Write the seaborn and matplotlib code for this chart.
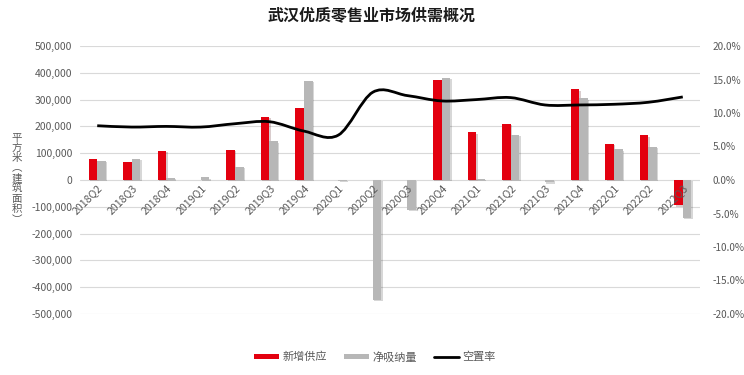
import numpy as np
import pandas as pd
import matplotlib
matplotlib.use("Agg")
import matplotlib.pyplot as plt
import seaborn as sns
from matplotlib.path import Path
from matplotlib.patches import PathPatch, Patch
from matplotlib.lines import Line2D
from matplotlib.ticker import FuncFormatter, MultipleLocator
import matplotlib.patheffects as pe

quarters = ["2018Q2", "2018Q3", "2018Q4", "2019Q1", "2019Q2", "2019Q3", "2019Q4",
            "2020Q1", "2020Q2", "2020Q3", "2020Q4", "2021Q1", "2021Q2", "2021Q3",
            "2021Q4", "2022Q1", "2022Q2", "2022Q3"]
supply = [77000, 68000, 108000, 0, 112000, 236000, 270000,
          0, 0, 0, 374000, 178000, 210000, 0,
          338000, 136000, 167000, -95000]
absorption = [71000, 78000, 8000, 10000, 50000, 145000, 369000,
              -2000, -448000, -112000, 382000, 5000, 168000, -8000,
              305000, 114000, 124000, -142000]
vacancy = [8.1, 7.9, 8.0, 7.9, 8.4, 8.7, 7.3,
           6.7, 13.1, 12.6, 11.8, 12.0, 12.3, 11.2,
           11.2, 11.3, 11.6, 12.4]

series_names = ["新增供应", "净吸纳量", "空置率"]
title = "武汉优质零售业市场供需概况"
ylabel = "平方米︵建筑面积︶"

RED = "#E3000F"
GREY = "#B7B7B7"
TXT = "#595959"

sns.set_theme(style="white")
plt.rcParams["font.family"] = ["Noto Sans CJK SC", "DejaVu Sans"]

df = pd.DataFrame({
    "quarter": quarters * 2,
    "value": supply + absorption,
    "series": [series_names[0]] * len(quarters) + [series_names[1]] * len(quarters),
})

fig = plt.figure(figsize=(7.44, 3.75), dpi=100)
ax = fig.add_axes([80 / 744, 1 - 314 / 375, 620 / 744, 268 / 375])

sns.barplot(data=df, x="quarter", y="value", hue="series", palette=[RED, GREY],
            width=0.5, saturation=1, legend=False, ax=ax, order=quarters,
            linewidth=0, edgecolor="none", zorder=1)
for p in ax.patches:
    p.set_path_effects([pe.SimplePatchShadow(offset=(1.0, -1.0), alpha=0.2), pe.Normal()])

ax.set_xlim(-0.5, len(quarters) - 0.5)
ax.set_ylim(-500000, 500000)
ax.yaxis.set_major_locator(MultipleLocator(100000))
ax.yaxis.set_major_formatter(FuncFormatter(lambda v, p: f"{int(v):,}"))
# horizontal gridlines drawn beneath the bars, tick labels stay above them
for yv in ax.get_yticks():
    ax.axhline(yv, color="#D9D9D9", lw=0.8, zorder=0)
for s in ax.spines.values():
    s.set_visible(False)
ax.spines["bottom"].set_position(("data", 0))
ax.tick_params(axis="y", length=0, labelsize=7.5, labelcolor=TXT, pad=5.5)
ax.tick_params(axis="x", length=0, labelsize=7.6, labelcolor=TXT, pad=2)
ax.set_xticks(range(len(quarters)))
ax.set_xticklabels(quarters, rotation=45, ha="right", va="top", rotation_mode="anchor")
ax.xaxis.set_zorder(3)
ax.set_xlabel("")
ax.set_ylabel("")

ax2 = ax.twinx()
ax2.set_ylim(-20, 20)
ax2.yaxis.set_major_locator(MultipleLocator(5))
ax2.yaxis.set_major_formatter(FuncFormatter(lambda v, p: f"{v:.1f}%"))
ax2.tick_params(axis="y", length=0, labelsize=7.2, labelcolor=TXT, pad=9)
for s in ax2.spines.values():
    s.set_visible(False)

# smooth line (Catmull-Rom as cubic Bezier), like Excel's smoothed line
xs = np.arange(len(quarters), dtype=float)
ys = np.array(vacancy, dtype=float)
pts = np.column_stack([xs, ys])
ext = np.vstack([pts[0], pts, pts[-1]])
verts = [tuple(pts[0])]
codes = [Path.MOVETO]
for i in range(len(pts) - 1):
    p0, p1, p2, p3 = ext[i], ext[i + 1], ext[i + 2], ext[i + 3]
    c1 = p1 + (p2 - p0) / 6
    c2 = p2 - (p3 - p1) / 6
    verts += [tuple(c1), tuple(c2), tuple(p2)]
    codes += [Path.CURVE4] * 3
ax2.add_patch(PathPatch(Path(verts, codes), facecolor="none", edgecolor="black", lw=2, zorder=5))

fig.text(0.5, 1 - 15 / 375, title, ha="center", va="center", fontsize=11.5,
         fontweight="bold", color="#1a1a1a")
# vertical (stacked) axis title, one upright character per row
y0 = 138
for k, ch in enumerate(ylabel):
    fig.text(17 / 744, 1 - (y0 + k * 10.2) / 375, ch, ha="center", va="center",
             fontsize=7.5, color=TXT)

handles = [Patch(facecolor=RED, edgecolor="none"),
           Patch(facecolor=GREY, edgecolor="none"),
           Line2D([0], [0], color="black", lw=2)]
fig.legend(handles, series_names, loc="center", bbox_to_anchor=(375 / 744, 1 - 357 / 375),
           ncol=3, frameon=False, fontsize=8, handlelength=2.2, handleheight=0.45,
           columnspacing=1.6, handletextpad=0.3, labelcolor=TXT)

fig.savefig("out.png", dpi=100)
